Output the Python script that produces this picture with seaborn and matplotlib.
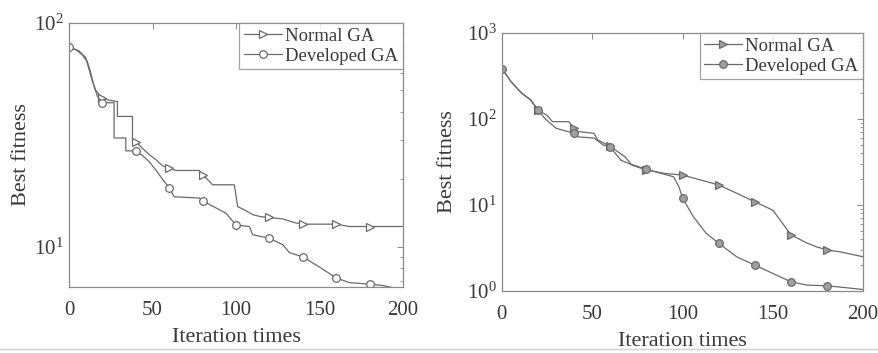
import numpy as np
import pandas as pd
import matplotlib
matplotlib.use("Agg")
import matplotlib.pyplot as plt
from matplotlib.lines import Line2D
from matplotlib.ticker import LogLocator, NullFormatter, FixedLocator
import seaborn as sns

# ---------------- data ----------------
series_names = ["Normal GA", "Developed GA"]

left_normal_it = [0, 6, 10, 12, 14, 16, 20, 25, 29, 29, 38, 38, 40, 44, 48, 52, 56, 60, 64, 78, 80,
                  86, 99, 101, 105, 110, 115, 120, 128, 135, 140, 160, 168, 180, 200]
left_normal_val = [78, 75, 70, 62, 55, 50, 46, 45, 44.5, 38.2, 38.2, 30, 29.5, 27.5, 25.8, 24.5, 23.0,
                   22.4, 21.9, 21.9, 21.0, 18.9, 18.9, 15.1, 14.6, 13.9, 13.6, 13.5, 13.3, 12.8, 12.6,
                   12.6, 12.3, 12.3, 12.3]

left_dev_it = [0, 4, 8, 11, 13, 15, 17, 20, 27, 27, 34, 34, 40, 44, 48, 52, 56, 60, 63, 78, 80, 88,
               94, 100, 108, 110, 120, 128, 132, 140, 150, 160, 168, 180, 188, 200]
left_dev_val = [78, 76, 72, 67, 60, 52, 47, 44, 44, 30.6, 30.6, 26.8, 26.8, 25.5, 24.0, 22.0, 20.0,
                18.3, 16.7, 16.5, 16.0, 14.9, 14.1, 12.5, 12.3, 11.3, 10.9, 10.2, 9.4, 9.0, 8.1,
                7.24, 6.9, 6.8, 6.7, 6.4]

right_normal_it = [0, 5, 11, 16, 20, 25, 28, 37, 40, 41, 51, 53, 60, 68, 72, 80, 90, 100, 120, 130,
                   140, 150, 154, 160, 169, 174, 180, 187, 200]
right_normal_val = [385, 272, 199, 166, 127, 110, 93, 93, 78, 72, 68, 57, 48, 36.5, 29, 25.5, 23.3,
                    22.3, 17.1, 13.7, 10.9, 8.7, 6.7, 4.5, 3.6, 3.27, 3.0, 2.86, 2.5]

right_dev_it = [0, 5, 11, 16, 20, 24, 30, 40, 42, 51, 56, 60, 66, 71, 80, 95, 98, 100, 106, 113, 120,
                130, 140, 150, 160, 169, 180, 191, 200]
right_dev_val = [385, 272, 199, 166, 127, 100, 78, 68, 62, 60, 50, 47, 33, 30, 26, 21.3, 16.3, 12.0,
                 7.3, 4.7, 3.59, 2.5, 2.0, 1.6, 1.28, 1.17, 1.15, 1.09, 1.04]

x_ticks = [0, 50, 100, 150, 200]
xlabel = "Iteration times"
ylabel = "Best fitness"

# ---------------- style ----------------
sns.set_theme(style="white")
plt.rcParams["font.family"] = ["Liberation Serif", "DejaVu Serif"]
plt.rcParams["mathtext.fontset"] = "custom"
plt.rcParams["mathtext.rm"] = "Liberation Serif"
plt.rcParams["mathtext.it"] = "Liberation Serif:italic"

TEXT = "#3a3a3a"
LINE = "#6a6a6a"
SPINE = "#8a8a8a"

fig = plt.figure(figsize=(8.79, 3.53), dpi=100)
ax1 = fig.add_axes([0.0785, 0.187, 0.38, 0.748])
ax2 = fig.add_axes([0.571, 0.1756, 0.411, 0.731])


def marker_idx(xs):
    idx, seen = [], set()
    for i, x in enumerate(xs):
        if x % 20 == 0 and x < 200 and x not in seen:
            idx.append(i)
            seen.add(x)
    return idx


def draw(ax, xs_list, ys_list, ylim, face):
    markers = [">", "o"]
    for name, xs, ys, mk in zip(series_names, xs_list, ys_list, markers):
        df = pd.DataFrame({"it": xs, "val": ys})
        sns.lineplot(data=df, x="it", y="val", ax=ax, estimator=None, sort=False,
                     color=LINE, linewidth=0.9, marker=mk, markersize=5.5,
                     markerfacecolor=face, markeredgecolor=LINE, markeredgewidth=0.9,
                     markevery=marker_idx(xs), label=name)
    ax.set_yscale("log")
    ax.set_xlim(0, 200)
    ax.set_ylim(*ylim)
    ax.xaxis.set_major_locator(FixedLocator(x_ticks))
    ax.yaxis.set_major_locator(LogLocator(base=10))
    ax.yaxis.set_minor_locator(LogLocator(base=10, subs=np.arange(2, 10)))
    ax.yaxis.set_minor_formatter(NullFormatter())
    ax.tick_params(axis="both", which="both", direction="in", top=True, right=True,
                   colors=SPINE, labelcolor=TEXT, labelsize=15)
    ax.tick_params(which="major", length=4, width=0.7)
    ax.tick_params(which="minor", length=2.5, width=0.6)
    ax.tick_params(axis="x", pad=10)
    ax.tick_params(axis="y", pad=4)
    for s in ax.spines.values():
        s.set_color(SPINE)
        s.set_linewidth(0.9)
    ax.set_xlabel(xlabel, fontsize=16, color=TEXT, labelpad=6)
    ax.set_ylabel(ylabel, fontsize=16, color=TEXT)
    leg = ax.legend(loc="upper right", borderaxespad=0, fontsize=13.5, frameon=True,
                    fancybox=False, edgecolor=SPINE, handlelength=2.0, handletextpad=0.2,
                    borderpad=0.25, labelspacing=0.15, labelcolor=TEXT)
    leg.get_frame().set_linewidth(0.9)


draw(ax1, [left_normal_it, left_dev_it], [left_normal_val, left_dev_val], (6.6, 100), "white")
draw(ax2, [right_normal_it, right_dev_it], [right_normal_val, right_dev_val], (1, 1000), "#a0a0a0")

ax1.yaxis.set_label_coords(-0.115, 0.5)
ax2.yaxis.set_label_coords(-0.125, 0.5)

fig.add_artist(Line2D([0, 1], [0.012, 0.012], color="#d0d0d0", linewidth=1.0,
                      transform=fig.transFigure))

fig.savefig("out.png", dpi=100)
